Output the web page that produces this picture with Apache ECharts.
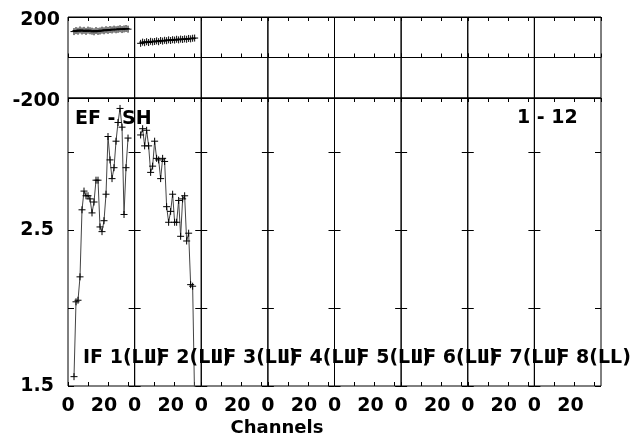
<!DOCTYPE html>
<html><head><meta charset="utf-8">
<script src="https://cdn.jsdelivr.net/npm/echarts@6/dist/echarts.min.js"></script>
<style>html,body{margin:0;padding:0;background:#fff}#c{width:639px;height:442px}</style>
</head><body><div id="c"></div>
<script>
// ---- data ----
const channelsIF1 = [3,4,5,6,7,8,9,10,11,12,13,14,15,16,17,18,19,20,21,22,23,24,25,26,27,28,29,30];
const channelsIF2 = [3,4,5,6,7,8,9,10,11,12,13,14,15,16,17,18,19,20,21,22,23,24,25,26,27,28,29,30];
const ampIF1 = [1.56,2.04,2.05,2.20,2.63,2.75,2.72,2.72,2.70,2.61,2.68,2.82,2.82,2.52,2.49,2.56,2.73,3.10,2.95,2.83,2.90,3.07,3.19,3.28,3.16,2.60,2.90,3.09];
const ampIF2 = [3.11,3.15,3.04,3.14,3.04,2.87,2.91,3.07,2.96,2.95,2.83,2.96,2.94,2.65,2.55,2.62,2.73,2.55,2.55,2.69,2.46,2.70,2.72,2.43,2.48,2.15,2.14,1.40];
const phaseIF1 = [128,133,130,136,131,134,129,135,132,130,127,133,129,131,135,132,137,134,138,136,140,137,139,142,138,141,143,140];
const phaseIF2 = [70,76,73,78,74,80,77,79,82,78,84,81,85,83,87,84,88,86,90,87,91,89,92,90,94,92,95,96];
const ifLabels = ['IF 1(LL)','IF 2(LL)','IF 3(LL)','IF 4(LL)','IF 5(LL)','IF 6(LL)','IF 7(LL)','IF 8(LL)'];
const ampTickLabels = [1.5, 2.5];
const phaseTickLabels = [200, -200];
const chTickLabels = [0, 20];
const baselineText = 'EF - SH';
const timeRangeText = '1 - 12';
const xTitle = 'Channels';

// ---- layout ----
const FONT = '"DejaVu Sans", sans-serif';
const FS = 19;
const L0 = 68, PW = 66.625, TOP = 17, TH = 81, BT = 98, BH = 288;
const AMP_MIN = 1.5, AMP_MAX = 3.347, CH_MAX = 33.3;
const CROSS = 'path://M0,5L10,5M5,0L5,10';
const TICK = {color: '#000', width: 1};
const LBL = {color: '#000', fontFamily: FONT, fontWeight: 'bold', fontSize: FS};

const grid = [], xAxis = [], yAxis = [], series = [];
const ampData = [ampIF1, ampIF2];
const phData = [phaseIF1, phaseIF2];
const chData = [channelsIF1, channelsIF2];

function xAx(gi, pos, labels, hidden) {
  xAxis.push({
    type: 'value', gridIndex: gi, position: pos, min: 0, max: CH_MAX, interval: 10,
    axisLine: {show: false},
    axisTick: {show: !hidden, inside: true, length: 4, lineStyle: TICK},
    splitLine: {show: false},
    axisLabel: labels ? Object.assign({
      show: true, margin: 11, showMaxLabel: false,
      formatter: v => chTickLabels.indexOf(v) < 0 ? '' : (v === 0 ? String(v) : '{s|' + v + '}'),
      rich: {s: Object.assign({padding: [0, 8, 0, 0]}, LBL)}
    }, LBL) : {show: false}
  });
  return xAxis.length - 1;
}
function ampY(gi, inside, labels) {
  yAxis.push({
    type: 'value', gridIndex: gi, position: 'left', min: AMP_MIN, max: AMP_MAX, interval: 0.5,
    axisLine: {show: false},
    axisTick: {show: true, inside: inside, length: 6, lineStyle: TICK},
    splitLine: {show: false},
    axisLabel: labels ? Object.assign({
      show: true, margin: 14, showMaxLabel: false,
      formatter: v => ampTickLabels.indexOf(v) < 0 ? '' : v.toFixed(1)
    }, LBL) : {show: false}
  });
  return yAxis.length - 1;
}

for (let i = 0; i < 8; i++) {
  const left = L0 + i * PW;
  // top (phase) grid
  grid.push({left: left, top: TOP, width: PW, height: TH, show: true, borderColor: '#000', borderWidth: 1, backgroundColor: 'transparent'});
  const gTop = grid.length - 1;
  const xp = xAx(gTop, 'bottom', false);
  xAx(gTop, 'top', false);
  yAxis.push({
    type: 'value', gridIndex: gTop, min: -200, max: 200, interval: 200,
    axisLine: {show: false}, axisTick: {show: false},
    splitLine: {show: true, lineStyle: {color: '#000', width: 1}},
    axisLabel: i === 0 ? Object.assign({
      show: true, margin: 8,
      formatter: v => phaseTickLabels.indexOf(v) < 0 ? '' : '{p|' + v + '}',
      rich: {p: Object.assign({padding: [7, 0, 0, 0]}, LBL)}
    }, LBL) : {show: false}
  });
  const yp = yAxis.length - 1;

  // bottom (amplitude) grid
  grid.push({left: left, top: BT, width: PW, height: BH, show: true, borderColor: '#000', borderWidth: 1, backgroundColor: 'transparent'});
  const gBot = grid.length - 1;
  const xa = xAx(gBot, 'bottom', true);
  xAx(gBot, 'top', false);
  const ya = ampY(gBot, true, i === 0);
  if (i > 0) ampY(gBot, false, false); // previous panel's right-edge ticks

  if (i < ampData.length) {
    const common = {
      type: 'line', symbol: CROSS, symbolSize: 7, showAllSymbol: true, clip: true,
      lineStyle: {color: '#444', width: 1},
      itemStyle: {color: 'rgba(0,0,0,0)', borderColor: '#000', borderWidth: 1},
      emphasis: {disabled: true}, silent: true, z: 5
    };
    series.push(Object.assign({}, common, {
      xAxisIndex: xp, yAxisIndex: yp,
      data: chData[i].map((c, k) => [c, phData[i][k]])
    }));
    series.push(Object.assign({}, common, {
      xAxisIndex: xa, yAxisIndex: ya,
      data: chData[i].map((c, k) => [c, ampData[i][k]])
    }));
  }
}
// helper grid right of the last panel: supplies the last panel's right-edge ticks
grid.push({left: L0 + 8 * PW, top: BT, width: 20, height: BH, show: false});
const gEnd = grid.length - 1;
xAx(gEnd, 'bottom', false, true);
ampY(gEnd, false, false);

const txt = (x, y, text, align) => ({
  type: 'text', x: x, y: y, silent: true, z: 100,
  style: {text: text, fill: '#000', font: 'bold ' + FS + 'px ' + FONT, align: align || 'left', verticalAlign: 'middle'}
});
const graphic = [
  txt(75, 119, baselineText),
  txt(517, 118, timeRangeText),
  {type: 'text', x: 277, y: 428, silent: true, z: 100,
   style: {text: xTitle, fill: '#000', font: 'bold 18px ' + FONT, align: 'center', verticalAlign: 'middle'}}
];
ifLabels.forEach((t, i) => graphic.push(txt(83 + i * PW, 358, t)));

const chart = echarts.init(document.getElementById('c'), null, {renderer: 'canvas'});
chart.setOption({animation: false, backgroundColor: '#fff', grid, xAxis, yAxis, series, graphic});
</script></body></html>
